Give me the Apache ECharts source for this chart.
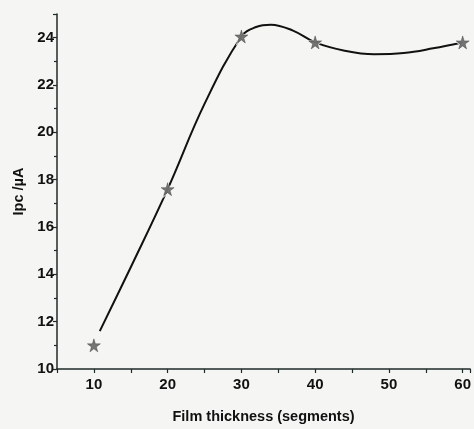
<!DOCTYPE html>
<html>
<head>
<meta charset="utf-8">
<script src="https://cdn.jsdelivr.net/npm/echarts@6/dist/echarts.min.js"></script>
<style>
  html, body { margin: 0; padding: 0; background: #f5f5f3; }
  #chart { width: 474px; height: 429px; }
</style>
</head>
<body>
<div id="chart"></div>
<script>
// measured points (stars)
let thickness = [10, 20, 30, 40, 60]
let ipc = [11.0, 17.6, 24.05, 23.8, 23.8]
// fitted curve
let curveX = [10.8, 15, 20, 25, 30, 32, 34, 37, 40, 44, 48, 52, 56, 60]
let curveY = [11.6, 14.3, 17.6, 21.2, 24.05, 24.45, 24.55, 24.3, 23.8, 23.45, 23.3, 23.35, 23.55, 23.8]

let star = 'path://M50,0 L61,35 L98,35 L68,57 L79,91 L50,70 L21,91 L32,57 L2,35 L39,35 Z'

let pts = []
for (let i = 0; i < thickness.length; i++) {
    pts.push([thickness[i], ipc[i]])
}
let curve = []
for (let i = 0; i < curveX.length; i++) {
    curve.push([curveX[i], curveY[i]])
}

let myChart = echarts.init(document.getElementById('chart'))
let font = 'Liberation Sans, Arial, sans-serif'
const option = {
    backgroundColor: '#f5f5f3',
    animation: false,
    grid: {
        left: 57,
        right: 2,
        top: 14,
        bottom: 59
    },
    xAxis: {
        type: 'value',
        min: 5,
        max: 61,
        interval: 5,
        name: 'Film thickness (segments)',
        nameLocation: 'middle',
        nameGap: 40,
        nameTextStyle: { fontFamily: font, fontWeight: 'bold', fontSize: 14.5, color: '#111' },
        axisLine: { lineStyle: { color: '#1e2a28', width: 1.5 } },
        axisTick: { length: 4, lineStyle: { color: '#1e2a28', width: 1.2 } },
        axisLabel: {
            fontFamily: font, fontWeight: 'bold', fontSize: 15, color: '#111', margin: 8,
            formatter: function (v) { return v % 10 === 0 ? v : '' }
        },
        splitLine: { show: false }
    },
    yAxis: {
        type: 'value',
        min: 10,
        max: 25,
        interval: 2,
        name: 'Ipc /\u00b5A',
        nameLocation: 'middle',
        nameGap: 29,
        nameRotate: 90,
        nameTextStyle: { fontFamily: font, fontWeight: 'bold', fontSize: 14.5, color: '#111' },
        axisLine: { show: true, lineStyle: { color: '#1e2a28', width: 1.5 } },
        axisTick: { show: true, length: 4, lineStyle: { color: '#1e2a28', width: 1.2 } },
        minorTick: { show: true, splitNumber: 2, length: 3, lineStyle: { color: '#1e2a28', width: 1.2 } },
        axisLabel: {
            fontFamily: font, fontWeight: 'bold', fontSize: 15, color: '#111', margin: 3,
            formatter: function (v) { return v === 25 ? '' : v }
        },
        splitLine: { show: false }
    },
    series: [
        {
            type: 'line',
            data: curve,
            smooth: 0.4,
            showSymbol: false,
            lineStyle: { color: '#111', width: 2 },
            z: 2
        },
        {
            // halo that leaves a small gap in the line round each star
            type: 'scatter',
            data: pts,
            symbol: star,
            symbolSize: 19,
            itemStyle: { color: '#f5f5f3' },
            silent: true,
            z: 3
        },
        {
            type: 'scatter',
            data: pts,
            symbol: star,
            symbolSize: 13,
            itemStyle: { color: '#555', borderColor: '#333', borderWidth: 0.5 },
            z: 4
        }
    ]
}
myChart.setOption(option)
</script>
</body>
</html>
